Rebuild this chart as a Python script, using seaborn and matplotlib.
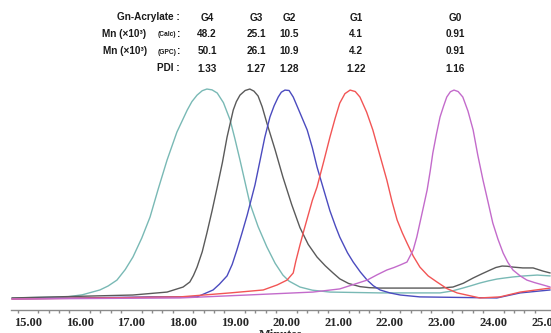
import numpy as np
import pandas as pd
import seaborn as sns
import matplotlib.pyplot as plt
from matplotlib.ticker import MultipleLocator

# retention time (min) / detector response (% of peak)
g4_t = [14.69, 15.75, 16.05, 16.39, 16.55, 16.72, 16.88, 17.03, 17.20, 17.36, 17.52,
        17.69, 17.88, 18.08, 18.17, 18.27, 18.37, 18.46, 18.56, 18.66, 18.78, 18.91,
        19.00, 19.10, 19.29, 19.45, 19.62, 19.78, 19.93, 20.05, 20.26, 20.50, 20.84,
        21.81, 22.97, 23.20, 23.41, 23.58, 23.74, 23.90, 24.07, 24.22, 24.38, 24.60,
        24.85, 25.10]
g4_y = [0.5, 1.0, 2.0, 4.3, 6.2, 9.0, 14.0, 20.0, 29.0, 39.0, 52.5,
        66.2, 79.5, 90.0, 94.0, 97.1, 99.2, 100.0, 99.6, 98.1, 93.5, 85.2,
        76.5, 66.2, 45.7, 34.5, 24.8, 17.0, 11.4, 8.5, 5.7, 4.2, 3.3,
        2.9, 2.9, 3.8, 5.2, 6.4, 7.6, 8.6, 9.5, 10.0, 10.5, 11.0,
        11.4, 11.0]

g3_t = [14.69, 17.03, 17.69, 18.00, 18.13, 18.20, 18.27, 18.37, 18.46, 18.56, 18.66,
        18.76, 18.85, 18.97, 19.03, 19.10, 19.20, 19.29, 19.37, 19.45, 19.53, 19.62,
        19.78, 19.93, 20.10, 20.26, 20.42, 20.59, 20.75, 20.90, 21.03, 21.20, 21.42,
        21.60, 21.81, 22.97, 23.22, 23.42, 23.61, 23.78, 23.94, 24.05, 24.17, 24.27,
        24.38, 24.57, 24.77, 24.96, 25.10]
g3_y = [0.5, 1.9, 3.3, 5.7, 8.1, 11.2, 15.2, 22.5, 31.4, 42.0, 53.3,
        65.0, 77.1, 90.0, 94.0, 97.1, 99.3, 100.0, 99.0, 96.7, 91.5, 83.8,
        71.0, 58.1, 45.0, 34.0, 26.0, 20.0, 15.8, 12.4, 9.6, 7.4, 5.9,
        5.4, 5.2, 5.2, 5.7, 7.5, 10.0, 12.0, 13.8, 15.0, 15.7, 15.6,
        15.2, 14.8, 14.8, 13.3, 12.4]

g2_t = [14.69, 17.36, 18.27, 18.58, 18.70, 18.85, 18.95, 19.04, 19.14, 19.24, 19.39,
        19.49, 19.58, 19.68, 19.76, 19.84, 19.90, 19.97, 20.05, 20.13, 20.22, 20.40,
        20.50, 20.59, 20.72, 20.84, 20.95, 21.03, 21.18, 21.29, 21.43, 21.56, 21.68,
        21.81, 22.00, 22.20, 22.58, 24.07, 24.52, 25.10]
g2_y = [0.0, 1.0, 1.0, 4.3, 7.0, 11.0, 16.5, 23.3, 31.5, 40.0, 54.3,
        66.2, 77.0, 86.7, 92.0, 96.2, 98.5, 99.5, 99.3, 96.2, 91.0, 80.5,
        72.0, 62.9, 52.0, 42.0, 34.5, 29.5, 22.0, 17.6, 12.8, 9.0, 6.3,
        4.3, 2.9, 1.9, 1.0, 0.5, 2.9, 4.3]

g1_t = [14.69, 16.39, 17.94, 18.91, 19.55, 19.82, 20.01, 20.13, 20.18, 20.26, 20.34,
        20.42, 20.50, 20.59, 20.72, 20.84, 20.94, 21.03, 21.13, 21.23, 21.33, 21.42,
        21.55, 21.67, 21.80, 21.94, 22.04, 22.14, 22.24, 22.33, 22.45, 22.58, 22.74,
        22.91, 23.10, 23.30, 23.74, 24.13, 24.52, 25.10]
g1_y = [0.0, 0.5, 1.0, 2.9, 4.3, 6.7, 9.0, 12.4, 18.0, 25.7, 33.0,
        40.0, 47.0, 53.3, 65.5, 77.1, 86.0, 93.3, 97.8, 99.5, 98.8, 96.2,
        89.0, 80.5, 69.0, 56.7, 46.5, 37.6, 31.5, 26.7, 20.5, 15.2, 11.0,
        8.1, 5.0, 2.9, 0.5, 1.0, 3.3, 5.2]

g0_t = [14.69, 17.94, 19.24, 20.51, 21.03, 21.56, 21.75, 21.94, 22.08, 22.20, 22.33,
        22.45, 22.52, 22.58, 22.65, 22.72, 22.78, 22.83, 22.90, 22.97, 23.04, 23.10,
        23.17, 23.24, 23.32, 23.41, 23.51, 23.61, 23.70, 23.80, 23.90, 23.99, 24.09,
        24.19, 24.28, 24.38, 24.52, 24.65, 24.80, 24.96, 25.10]
g0_y = [0.0, 0.5, 1.9, 3.3, 4.8, 9.0, 11.5, 13.8, 15.0, 16.2, 17.6,
        23.3, 29.5, 36.2, 44.0, 51.9, 61.0, 69.5, 78.5, 86.7, 92.0, 96.2,
        98.7, 99.5, 98.8, 96.2, 89.5, 80.5, 68.5, 56.7, 46.0, 36.2, 28.5,
        21.9, 17.5, 13.8, 11.0, 9.0, 7.8, 6.7, 5.7]

# header table
gens = ["G4", "G3", "G2", "G1", "G0"]
mn_calc = ["48.2", "25.1", "10.5", "4.1", "0.91"]
mn_gpc = ["50.1", "26.1", "10.9", "4.2", "0.91"]
pdi = ["1.33", "1.27", "1.28", "1.22", "1.16"]

traces = [
    (g4_t, g4_y, "#79b9b5"),
    (g3_t, g3_y, "#5a5a5a"),
    (g2_t, g2_y, "#4b4bbf"),
    (g1_t, g1_y, "#f25555"),
    (g0_t, g0_y, "#c36bcb"),
]

sns.set_style("white")
W, H = 551, 333
fig = plt.figure(figsize=(W / 100, H / 100), dpi=100)
ax = fig.add_axes([11 / W, 1 - 310 / H, 540 / W, 230 / H])

for t, y, c in traces:
    sns.lineplot(x=t, y=y, color=c, linewidth=1.0, ax=ax)

ax.set_xlim(14.671, 25.116)
ax.set_ylim(-5.24, 104.3)
ax.set_yticks([])
for s in ["left", "right", "top"]:
    ax.spines[s].set_visible(False)
ax.spines["bottom"].set_color("#8a8a8a")
ax.spines["bottom"].set_linewidth(1.0)

ax.xaxis.set_major_locator(MultipleLocator(1))
ax.xaxis.set_minor_locator(MultipleLocator(0.2))
ax.tick_params(axis="x", which="major", direction="out", length=3, width=1,
               color="#8a8a8a", pad=2)
ax.tick_params(axis="x", which="minor", direction="out", length=2, width=1,
               color="#8a8a8a", bottom=True)
ax.set_xticks(np.arange(15, 26, 1))
ax.set_xticklabels([f"{v:.2f}" for v in np.arange(15, 26, 1)],
                   fontfamily="Liberation Serif", fontweight="bold", fontsize=9)
ax.set_xlabel("Minutes", fontfamily="Liberation Serif", fontweight="bold",
              fontsize=9, labelpad=0)


def ftext(x, y, s, size=7.2, ha="center"):
    fig.text(x / W, 1 - y / H, s, ha=ha, va="center", fontsize=size,
             fontweight="bold", fontfamily="Liberation Sans", color="#1a1a1a")


col_x = [207, 256, 289, 356, 455]
rows_y = [17, 34, 51, 68]

ftext(180, rows_y[0], "Gn-Acrylate :", ha="right")
ftext(146, rows_y[1], "Mn (×10³)", ha="right")
ftext(176, rows_y[1] + 1, "(Calc)", size=4.8, ha="right")
ftext(180, rows_y[1], ":", ha="right")
ftext(147, rows_y[2], "Mn (×10³)", ha="right")
ftext(176, rows_y[2] + 1, "(GPC)", size=4.8, ha="right")
ftext(180, rows_y[2], ":", ha="right")
ftext(180, rows_y[3], "PDI :", ha="right")

for i, x in enumerate(col_x):
    ftext(x, rows_y[0] + 1, gens[i])
    ftext(x, rows_y[1], mn_calc[i])
    ftext(x, rows_y[2], mn_gpc[i])
    ftext(x, rows_y[3] + 1, pdi[i])

fig.savefig("out.png", dpi=100)
